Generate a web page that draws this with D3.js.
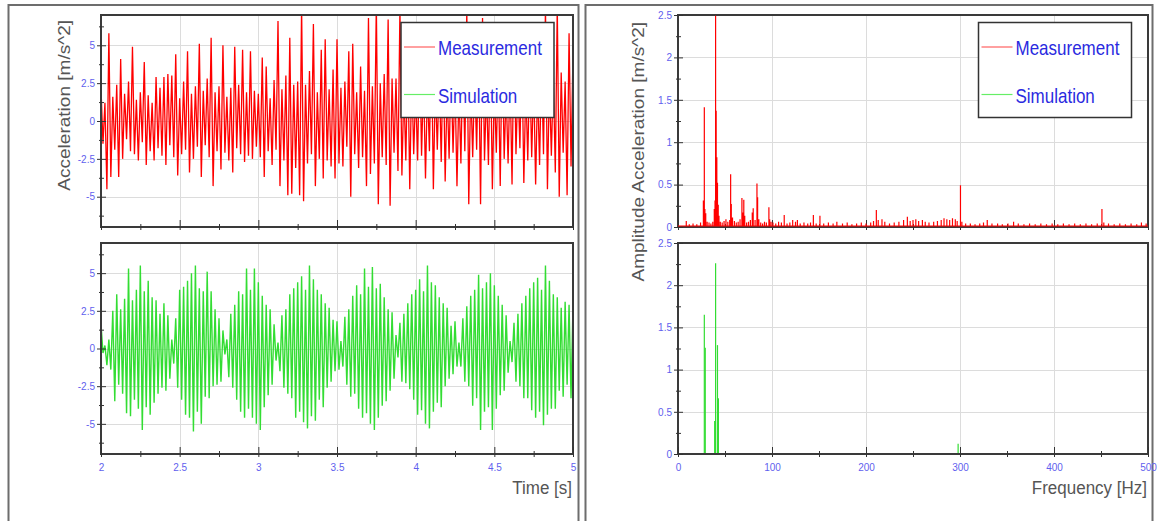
<!DOCTYPE html>
<html>
<head>
<meta charset="utf-8">
<script src="https://cdn.jsdelivr.net/npm/d3@7"></script>
<style>
  body { margin: 0; background: #fff; }
  svg text { font-family: 'Liberation Sans', Arial, sans-serif; }
  .tick-label { fill: #5f5fee; font-size: 10px; }
  .title { fill: #555; font-size: 17px; }
  .legend-text { fill: #2a2ae0; font-size: 17px; }
</style>
</head>
<body>
<div id="chart"></div>
<script>
// time signal, sampled every 12.5 ms from t = 2 s
var timeStart = 2,
    timeStep = 0.0125;

var measAccel = [
    2.2, -1.5, 1.2, -4.5, 5.8, -3.7, 1.6, -1.9, 2.4, -3.7, 4.1, -2.5, 1.8, -1.2, 2.6, -2.0, 4.9, -2.2, 1.4, -2.6,
    1.9, -1.4, 3.9, -2.9, 1.7, -2.0, 1.2, -2.6, 2.9, -1.8, 2.2, -2.3, 2.9, -2.9, 3.1, -1.6, 3.0, -2.4, 4.4, -3.6,
    1.5, -2.2, 2.6, -1.9, 4.6, -3.4, 1.8, -2.5, 2.3, -1.7, 5.1, -3.7, 2.0, -1.6, 2.8, -2.4, 5.5, -4.3, 1.9, -2.0,
    2.3, -3.2, 5.0, -2.1, 1.6, -2.6, 2.2, -3.4, 4.9, -1.8, 2.4, -2.2, 4.7, -2.7, 1.9, -2.3, 4.6, -2.5, 2.0, -1.7,
    1.8, -2.4, 4.2, -3.7, 3.6, -2.0, 1.5, -2.9, 2.7, -1.9, 6.6, -4.3, 2.1, -2.6, 3.0, -4.9, 5.5, -4.8, 2.4, -3.1,
    2.6, -4.9, 7.6, -5.3, 2.4, -2.8, 3.3, -2.2, 6.4, -4.3, 1.9, -2.5, 4.7, -3.8, 5.4, -2.6, 2.1, -3.0, 3.4, -3.8,
    5.4, -2.8, 2.2, -3.0, 2.6, -1.7, 4.6, -5.0, 5.1, -2.2, 1.9, -3.1, 3.6, -2.4, 2.0, -4.3, 6.8, -3.5, 2.3, -2.8,
    7.8, -5.5, 2.5, -2.4, 3.1, -2.9, 6.7, -5.6, 2.8, -2.1, 2.8, -3.3, 7.4, -3.6, 2.2, -2.6, 4.5, -4.5, 3.4, -2.2,
    2.0, -2.6, 5.2, -2.3, 3.0, -3.8, 2.4, -2.0, 5.6, -4.5, 2.6, -1.9, 3.2, -2.7, 5.0, -4.0, 2.2, -2.5, 3.6, -2.1,
    2.7, -4.3, 2.1, -2.8, 4.4, -2.0, 7.3, -5.5, 2.5, -2.4, 3.2, -1.9, 4.8, -5.5, 6.8, -2.6, 2.2, -2.9, 5.1, -4.5,
    2.4, -2.1, 3.6, -4.3, 5.4, -2.5, 2.0, -2.8, 3.1, -4.2, 5.8, -2.2, 2.6, -1.8, 4.9, -4.1, 2.3, -2.6, 3.7, -2.4,
    2.8, -4.2, 2.4, -2.9, 4.0, -2.2, 7.5, -4.5, 2.6, -2.3, 3.1, -3.4, 7.6, -5.0, 3.2, -2.1, 2.6, -4.9, 5.8, -3.0,
    4.5
];

var simAccel = [
    1.6, -0.3, 0.2, -1.1, 0.6, -1.4, 2.5, -3.5, 3.6, -2.4, 2.6, -3.0, 3.3, -4.3, 5.3, -4.5, 3.2, -3.4, 3.9, -4.0,
    5.5, -5.4, 3.8, -3.9, 4.5, -4.4, 3.4, -3.6, 3.2, -3.0, 2.3, -2.6, 3.0, -2.8, 2.2, -2.0, 0.6, -1.0, 2.0, -2.6,
    3.9, -3.4, 4.1, -4.4, 4.5, -4.6, 5.0, -5.5, 5.5, -4.2, 4.0, -5.0, 3.8, -3.2, 5.1, -3.3, 3.8, -2.5, 2.6, -2.4,
    2.0, -2.2, 1.2, -0.4, 0.6, -1.9, 2.3, -2.6, 2.9, -3.4, 3.8, -4.2, 3.6, -4.6, 5.3, -4.0, 3.9, -4.6, 5.3, -5.0,
    4.4, -5.4, 3.5, -3.9, 2.9, -3.1, 2.6, -2.4, 1.6, -0.8, 0.4, -1.5, 2.2, -2.6, 2.6, -3.0, 3.6, -3.3, 4.0, -4.6,
    4.4, -4.2, 4.8, -4.9, 3.9, -5.3, 5.5, -4.5, 4.6, -4.8, 3.9, -3.4, 3.6, -3.9, 3.0, -2.6, 2.7, -2.2, 1.9, -1.5,
    1.8, -1.4, 0.5, -1.2, 2.1, -2.4, 2.6, -3.2, 3.5, -3.0, 4.2, -4.0, 3.6, -4.6, 5.3, -4.3, 4.1, -5.0, 5.4, -5.4,
    4.0, -4.6, 4.3, -3.8, 3.4, -3.5, 2.6, -2.8, 2.4, -2.0, 0.9, -0.6, 1.7, -2.2, 2.3, -2.3, 3.0, -2.7, 3.6, -3.4,
    3.9, -4.4, 4.6, -4.1, 3.8, -5.0, 5.5, -5.3, 4.4, -4.2, 4.2, -3.6, 3.4, -3.9, 3.0, -2.5, 2.7, -2.0, 1.5, -1.7,
    1.8, -1.2, 0.4, -1.2, 2.0, -2.2, 2.8, -2.5, 3.5, -3.8, 3.9, -3.3, 4.9, -5.4, 4.0, -4.2, 4.4, -3.9, 5.0, -5.4,
    4.2, -4.0, 3.5, -3.1, 2.9, -2.8, 2.2, -1.6, 0.5, -0.9, 1.7, -2.2, 2.3, -2.5, 3.0, -3.3, 3.5, -3.3, 4.0, -4.1,
    4.4, -4.6, 4.7, -4.2, 3.9, -5.1, 5.5, -4.4, 4.5, -4.0, 3.6, -4.0, 3.4, -2.8, 2.7, -3.2, 3.1, -2.4, 2.9, -3.3,
    2.9
];

// amplitude spectra (Hz, m/s^2)
var measFreq = [
    8.8, 12, 16, 20, 24, 27, 28, 28.6, 29.5, 31, 33, 35, 37, 38.6, 39.4, 40, 40.6, 41.3, 42, 42.8,
    43.6, 45, 47, 49, 51, 53, 55, 56, 56.7, 58, 60, 62, 64, 66, 68, 69, 70, 71, 73, 75,
    77, 79, 80, 82, 84, 84.7, 86, 88, 90, 92, 94, 96.7, 97.5, 99, 101, 104, 107, 110, 113, 116,
    119, 122, 125, 127, 130, 134, 138, 141, 144, 147, 151, 155, 160, 165, 169, 175, 180, 185, 190, 195,
    200, 205, 208, 211, 213, 217, 220, 225, 230, 235, 240, 244, 247, 250, 253, 256, 260, 263, 267, 272,
    276, 280, 283, 286, 289, 292, 295, 297, 300.5, 302, 306, 311, 316, 321, 325, 329, 334, 340, 345, 351,
    357, 362, 368, 374, 380, 386, 392, 398, 404, 410, 416, 422, 428, 434, 440, 446, 451, 453, 458, 464,
    470, 476, 482, 488, 493, 498
];
var measAmp = [
    0.06, 0.02, 0.03, 0.02, 0.04, 0.3, 1.40, 0.2, 0.15, 0.05, 0.04, 0.03, 0.05, 0.2, 0.3, 2.48, 1.36, 0.81, 0.51, 0.25,
    0.12, 0.05, 0.04, 0.06, 0.08, 0.05, 0.07, 0.61, 0.26, 0.1, 0.06, 0.04, 0.05, 0.08, 0.33, 0.16, 0.31, 0.12, 0.04, 0.05,
    0.07, 0.16, 0.21, 0.07, 0.50, 0.34, 0.08, 0.04, 0.03, 0.05, 0.04, 0.22, 0.08, 0.05, 0.04, 0.03, 0.05, 0.04, 0.13, 0.03,
    0.04, 0.07, 0.05, 0.07, 0.03, 0.04, 0.03, 0.04, 0.13, 0.03, 0.12, 0.03, 0.04, 0.03, 0.05, 0.03, 0.04, 0.02, 0.03, 0.04,
    0.03, 0.04, 0.06, 0.19, 0.07, 0.08, 0.05, 0.03, 0.04, 0.05, 0.07, 0.11, 0.06, 0.07, 0.08, 0.06, 0.07, 0.05, 0.04, 0.05,
    0.06, 0.07, 0.09, 0.08, 0.07, 0.09, 0.08, 0.06, 0.48, 0.05, 0.03, 0.03, 0.02, 0.03, 0.04, 0.07, 0.03, 0.03, 0.02, 0.03,
    0.05, 0.03, 0.02, 0.03, 0.02, 0.03, 0.02, 0.03, 0.02, 0.03, 0.02, 0.03, 0.02, 0.03, 0.02, 0.03, 0.20, 0.04, 0.03, 0.02,
    0.03, 0.02, 0.03, 0.02, 0.04, 0.03
];

var simFreq = [28, 29, 39, 40, 42, 43, 298];
var simAmp = [1.65, 1.26, 0.39, 2.26, 1.29, 0.66, 0.12];

// ticks
var timeMajor = [2, 2.5, 3, 3.5, 4, 4.5, 5];
var timeMinor = [2.25, 2.75, 3.25, 3.75, 4.25, 4.75];
var accelMajor = [-5, -2.5, 0, 2.5, 5];
var accelMinor = [-6.25, -3.75, -1.25, 1.25, 3.75, 6.25];
var freqMajor = [0, 100, 200, 300, 400, 500];
var freqMinor = [50, 150, 250, 350, 450];
var ampMajor = [0, 0.5, 1, 1.5, 2, 2.5];
var ampMinor = [0.25, 0.75, 1.25, 1.75, 2.25];

var seriesNames = ['Measurement', 'Simulation'];
var seriesColors = ['#ff0000', '#33dd33'];
var legendColors = ['#ff6060', '#66ee66'];

var width = 1157,
    height = 521;

var svg = d3.select('#chart')
    .append('svg')
    .attr('width', width)
    .attr('height', height);

// outer frames
svg.append('rect')
    .attr('x', 8.5).attr('y', 5).attr('width', 570).attr('height', 530)
    .attr('fill', 'none').attr('stroke', '#6d6d6d').attr('stroke-width', 2);
svg.append('rect')
    .attr('x', 585.5).attr('y', 5).attr('width', 567).attr('height', 530)
    .attr('fill', 'none').attr('stroke', '#6d6d6d').attr('stroke-width', 2);

var panels = [
    {id: 'tTop', left: 101, top: 15, right: 573, bottom: 227},
    {id: 'tBot', left: 101, top: 243, right: 573, bottom: 454},
    {id: 'fTop', left: 678, top: 15, right: 1148, bottom: 227},
    {id: 'fBot', left: 678, top: 243, right: 1148, bottom: 454}
];

function makePanel(p, xDomain, yDomain) {
    p.x = d3.scaleLinear().domain(xDomain).range([p.left, p.right]);
    p.y = d3.scaleLinear().domain(yDomain).range([p.bottom, p.top]);
    p.g = svg.append('g');
    svg.append('clipPath')
        .attr('id', 'clip-' + p.id)
        .append('rect')
        .attr('x', p.left).attr('y', p.top)
        .attr('width', p.right - p.left).attr('height', p.bottom - p.top);
    return p;
}

function drawGrid(p, xMajor, yMajor) {
    var xd = p.x.domain(), yd = p.y.domain();
    var grid = p.g.append('g').attr('stroke', '#dcdcdc').attr('stroke-width', 1);
    grid.selectAll('.gx')
        .data(xMajor.filter(function(d) { return d > xd[0] && d < xd[1]; }))
        .enter().append('line')
        .attr('x1', function(d) { return Math.round(p.x(d)) + 0.5; })
        .attr('x2', function(d) { return Math.round(p.x(d)) + 0.5; })
        .attr('y1', p.top).attr('y2', p.bottom);
    grid.selectAll('.gy')
        .data(yMajor.filter(function(d) { return d > yd[0] && d < yd[1]; }))
        .enter().append('line')
        .attr('y1', function(d) { return Math.round(p.y(d)) + 0.5; })
        .attr('y2', function(d) { return Math.round(p.y(d)) + 0.5; })
        .attr('x1', p.left).attr('x2', p.right);
}

function drawFrame(p, xMajor, xMinor, yMajor, yMinor, xLabels) {
    p.g.append('rect')
        .attr('x', p.left).attr('y', p.top)
        .attr('width', p.right - p.left).attr('height', p.bottom - p.top)
        .attr('fill', 'none').attr('stroke', '#3a3a3a').attr('stroke-width', 2);

    var fmt = function(d) { return d; };
    var axes = [
        d3.axisLeft(p.y).tickValues(yMajor).tickSize(4).tickPadding(2).tickFormat(fmt),
        d3.axisLeft(p.y).tickValues(yMinor).tickSize(2).tickFormat(''),
        d3.axisRight(p.y).tickValues(yMajor).tickSize(5).tickFormat(''),
        d3.axisRight(p.y).tickValues(yMinor).tickSize(3).tickFormat('')
    ];
    axes.forEach(function(a) {
        var ag = p.g.append('g')
            .attr('transform', 'translate(' + p.left + ',0)')
            .style('color', '#333')
            .call(a);
        ag.select('.domain').remove();
        ag.selectAll('text').attr('class', 'tick-label');
    });

    var bottom = [
        d3.axisBottom(p.x).tickValues(xMajor).tickSize(3).tickPadding(7).tickFormat(xLabels ? fmt : ''),
        d3.axisBottom(p.x).tickValues(xMinor).tickSize(3).tickFormat(''),
        d3.axisTop(p.x).tickValues(xMajor).tickSize(7).tickFormat(''),
        d3.axisTop(p.x).tickValues(xMinor).tickSize(3).tickFormat('')
    ];
    bottom.forEach(function(a) {
        var ag = p.g.append('g')
            .attr('transform', 'translate(0,' + p.bottom + ')')
            .style('color', '#333')
            .call(a);
        ag.select('.domain').remove();
        ag.selectAll('text').attr('class', 'tick-label');
    });
}

var tTop = makePanel(panels[0], [2, 5], [-7, 7]);
var tBot = makePanel(panels[1], [2, 5], [-7, 7]);
var fTop = makePanel(panels[2], [0, 500], [0, 2.5]);
var fBot = makePanel(panels[3], [0, 500], [0, 2.5]);

[tTop, tBot].forEach(function(p) { drawGrid(p, timeMajor, accelMajor); });
[fTop, fBot].forEach(function(p) { drawGrid(p, freqMajor, ampMajor); });

// time signals
function timeLine(p) {
    return d3.line()
        .x(function(d, i) { return p.x(timeStart + i * timeStep); })
        .y(function(d) { return p.y(d); });
}

tTop.g.append('path')
    .datum(measAccel)
    .attr('clip-path', 'url(#clip-tTop)')
    .attr('fill', 'none')
    .attr('stroke', seriesColors[0])
    .attr('stroke-width', 1.3)
    .attr('d', timeLine(tTop));

tBot.g.append('path')
    .datum(simAccel)
    .attr('clip-path', 'url(#clip-tBot)')
    .attr('fill', 'none')
    .attr('stroke', seriesColors[1])
    .attr('stroke-width', 1.4)
    .attr('d', timeLine(tBot));

// simulated spectrum: stems below the frame
fBot.g.append('g')
    .selectAll('line')
    .data(simFreq)
    .enter()
    .append('line')
    .attr('x1', function(d) { return fBot.x(d); })
    .attr('x2', function(d) { return fBot.x(d); })
    .attr('y1', fBot.y(0))
    .attr('y2', function(d, i) { return fBot.y(simAmp[i]); })
    .attr('stroke', seriesColors[1])
    .attr('stroke-width', 1.2);

drawFrame(tTop, timeMajor, timeMinor, accelMajor, accelMinor, false);
drawFrame(tBot, timeMajor, timeMinor, accelMajor, accelMinor, true);
drawFrame(fTop, freqMajor, freqMinor, ampMajor, ampMinor, false);
drawFrame(fBot, freqMajor, freqMinor, ampMajor, ampMinor, true);

// measured spectrum: stems joined along the zero line, over the frame
var specPts = [[0, 0]];
measFreq.forEach(function(f, i) {
    specPts.push([f, 0], [f, measAmp[i]], [f, 0]);
});
specPts.push([500, 0]);

fTop.g.append('path')
    .datum(specPts)
    .attr('fill', 'none')
    .attr('stroke', seriesColors[0])
    .attr('stroke-width', 1.2)
    .attr('d', d3.line()
        .x(function(d) { return fTop.x(d[0]); })
        .y(function(d) { return fTop.y(d[1]) - 1; }));

// axis titles
svg.append('text')
    .attr('class', 'title')
    .attr('text-anchor', 'end')
    .attr('transform', 'translate(70,20) rotate(-90) scale(1.12,1)')
    .text('Acceleration [m/s^2]');

svg.append('text')
    .attr('class', 'title')
    .attr('text-anchor', 'end')
    .attr('transform', 'translate(644,22) rotate(-90) scale(1.12,1)')
    .text('Amplitude Acceleration [m/s^2]');

svg.append('text')
    .attr('class', 'title')
    .attr('text-anchor', 'end')
    .attr('transform', 'translate(572,494) scale(1,1.12)')
    .text('Time [s]');

svg.append('text')
    .attr('class', 'title')
    .attr('text-anchor', 'end')
    .attr('transform', 'translate(1147,494) scale(1,1.12)')
    .text('Frequency [Hz]');

// legends
function drawLegend(x0, y0) {
    var lg = svg.append('g')
        .attr('transform', 'translate(' + x0 + ',' + y0 + ')');
    lg.append('rect')
        .attr('width', 153).attr('height', 95)
        .attr('fill', '#fff').attr('stroke', '#333').attr('stroke-width', 1.5);
    var item = lg.selectAll('.item')
        .data(seriesNames)
        .enter()
        .append('g')
        .attr('transform', function(d, i) { return 'translate(0,' + (i * 47.5) + ')'; });
    item.append('line')
        .attr('x1', 3).attr('x2', 34)
        .attr('y1', 24.5).attr('y2', 24.5)
        .attr('stroke', function(d, i) { return legendColors[i]; })
        .attr('stroke-width', 1.2);
    item.append('text')
        .attr('class', 'legend-text')
        .attr('transform', 'translate(37,32.5) scale(1,1.2)')
        .text(function(d) { return d; });
}

drawLegend(401, 22.5);
drawLegend(978.5, 22.5);
</script>
</body>
</html>
